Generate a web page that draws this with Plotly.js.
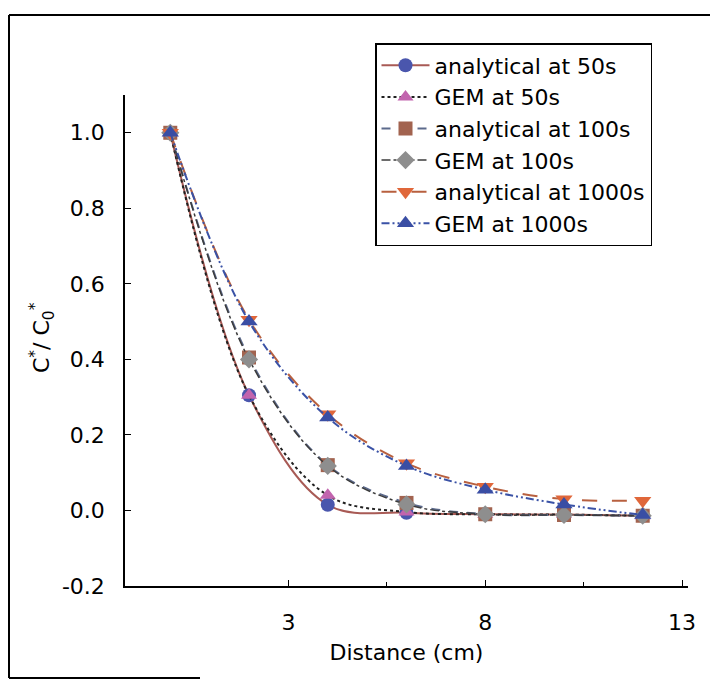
<!DOCTYPE html>
<html>
<head>
<meta charset="utf-8">
<script src="https://cdn.plot.ly/plotly-3.0.1.min.js"></script>
<style>
  html, body { margin: 0; padding: 0; background: #ffffff; }
  #chart { width: 710px; height: 680px; }
</style>
</head>
<body>
<div id="chart"></div>
<script>
// Distance (cm)
const distance = [0, 2, 4, 6, 8, 10, 12];

// C*/C0* series
const analytical50   = [1.0, 0.305, 0.015, -0.006, -0.010, -0.011, -0.014];
const gem50          = [1.0, 0.305, 0.040, -0.004, -0.010, -0.011, -0.014];
const analytical100  = [1.0, 0.405, 0.120, 0.020, -0.010, -0.012, -0.014];
const gem100         = [1.0, 0.400, 0.118, 0.016, -0.010, -0.012, -0.014];
const analytical1000 = [1.0, 0.505, 0.255, 0.125, 0.063, 0.030, 0.026];
const gem1000        = [1.0, 0.500, 0.246, 0.118, 0.055, 0.016, -0.012];

const seriesNames = [
  "analytical at 50s", "GEM at 50s",
  "analytical at 100s", "GEM at 100s",
  "analytical at 1000s", "GEM at 1000s"
];

const xTicks = [3, 8, 13];
const yTicks = [-0.2, 0, 0.2, 0.4, 0.6, 0.8, 1.0];

const FONT = "DejaVu Sans, Arial, sans-serif";
const FS = 22;

function tr(y, name, lineColor, dash, lw, symbol, mColor, mSize) {
  return {
    x: distance, y: y, name: name, type: "scatter", mode: "lines+markers",
    line: { color: lineColor, dash: dash, width: lw, shape: "spline", smoothing: 1 },
    marker: { symbol: symbol, color: mColor, size: mSize, line: { width: 0 } }
  };
}

const data = [
  tr(analytical50,   seriesNames[0], "#a85a55", "solid", 2, "circle", "#4a56ad", 14),
  tr(gem50,          seriesNames[1], "#202020", "dot", 2, "triangle-up", "#c264ae", 14),
  tr(analytical100,  seriesNames[2], "#5c6a8c", "dash", 2, "square", "#a2634f", 14),
  tr(gem100,         seriesNames[3], "#3c3c3c", "dashdot", 1.5, "diamond", "#8e8e8e", 14),
  tr(analytical1000, seriesNames[4], "#b8603f", "longdash", 2, "triangle-down", "#e0673a", 15),
  tr(gem1000,        seriesNames[5], "#3a52a6", "8px,3px,2px,3px,2px,3px", 2, "triangle-up", "#3a4ea4", 15)
];

const L = 125, R = 688, T = 95, B = 586;
const px = v => (v - L) / (R - L);
const py = v => (B - v) / (B - T);

const layout = {
  width: 710, height: 680,
  margin: { l: L, r: 710 - R, t: T, b: 680 - B, pad: 0 },
  paper_bgcolor: "#ffffff", plot_bgcolor: "#ffffff",
  font: { family: FONT, size: FS, color: "#000000" },
  showlegend: true,
  legend: {
    x: px(375), y: py(43),
    xanchor: "left", yanchor: "top",
    bordercolor: "#000000", borderwidth: 1.5, bgcolor: "#ffffff",
    font: { family: FONT, size: FS, color: "#000000" },
    itemwidth: 48, tracegroupgap: 0,
    traceorder: "normal"
  },
  xaxis: {
    range: [-1.15, 13.15],
    tickmode: "array", tickvals: xTicks, ticktext: xTicks.map(String),
    ticks: "inside", ticklen: 6, tickwidth: 1.2, tickcolor: "#000",
    showline: true, linecolor: "#000", linewidth: 1.5,
    showgrid: false, zeroline: false,
    ticklabelstandoff: 16,
    tickfont: { family: FONT, size: FS, color: "#000" },
    minor: { tickmode: "array", tickvals: [5.5, 10.5], ticks: "inside", ticklen: 4, tickcolor: "#000", showgrid: false },
    title: { text: "Distance (cm)", font: { family: FONT, size: FS, color: "#000" }, standoff: 10 }
  },
  yaxis: {
    range: [-0.2, 1.1],
    tickmode: "array", tickvals: yTicks, ticktext: yTicks.map(v => v.toFixed(1) + "\u00a0\u00a0"),
    ticks: "inside", ticklen: 6, tickwidth: 1.2, tickcolor: "#000",
    showline: true, linecolor: "#000", linewidth: 1.5,
    showgrid: false, zeroline: false,
    tickfont: { family: FONT, size: FS, color: "#000" }
  },
  annotations: [
    { text: "C<sup>*</sup>/ C<sub>0</sub><sup>*</sup>", xref: "paper", yref: "paper",
      x: px(42), y: py(338), xanchor: "center", yanchor: "middle", textangle: -90,
      showarrow: false, font: { family: FONT, size: FS, color: "#000" } }
  ],
  shapes: [
    { type: "line", xref: "paper", yref: "paper", layer: "above",
      x0: px(9), x1: px(710), y0: py(15), y1: py(15),
      line: { color: "#000", width: 2 } },
    { type: "line", xref: "paper", yref: "paper", layer: "above",
      x0: px(9), x1: px(9), y0: py(15), y1: py(678),
      line: { color: "#000", width: 2 } },
    { type: "line", xref: "paper", yref: "paper", layer: "above",
      x0: px(9), x1: px(200), y0: py(678), y1: py(678),
      line: { color: "#000", width: 2 } }
  ]
};

Plotly.newPlot("chart", data, layout, { displayModeBar: false });
</script>
</body>
</html>
